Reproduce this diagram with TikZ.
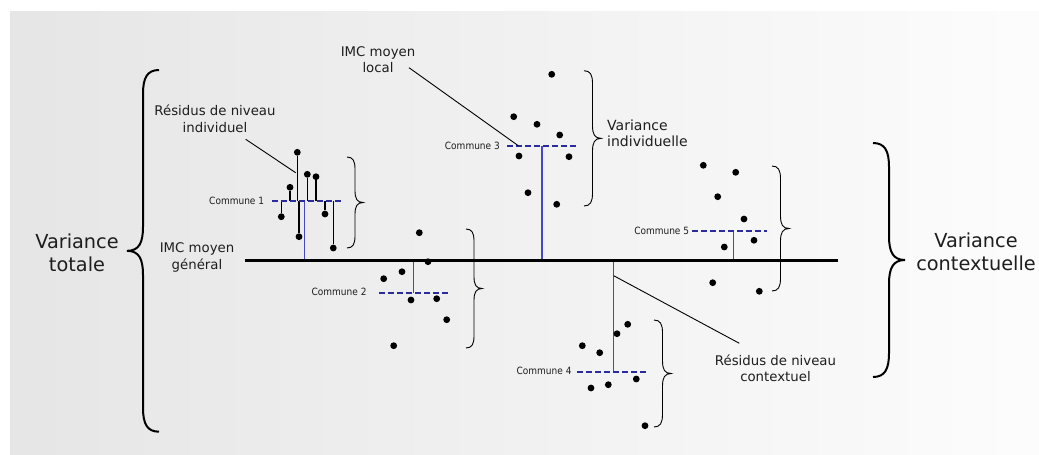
\documentclass[tikz,border=0pt]{standalone}
\usepackage{fontspec}
\setmainfont{DejaVu Sans}
\newfontfamily\condfont{DejaVu Sans}[FakeStretch=0.9]
\definecolor{meanblue}{HTML}{2B2BA0}
\definecolor{vertblue}{HTML}{4646C8}
\definecolor{txt}{HTML}{1E1E1E}
\definecolor{thin}{HTML}{4A4A4A}
\newcommand\mybrace[5]{%
 \draw[#5] (#1,#2) .. controls ({#1+0.75*(#4)},#2) and ({#1+(#4)},{#2+0.5*abs(#4)}) .. ({#1+(#4)},{#2+1.5*abs(#4)})
 -- ({#1+(#4)},{(#2+#3)/2-1.5*abs(#4)}) .. controls ({#1+(#4)},{(#2+#3)/2-0.5*abs(#4)}) and ({#1+1.25*(#4)},{(#2+#3)/2}) .. ({#1+2*(#4)},{(#2+#3)/2})
 .. controls ({#1+1.25*(#4)},{(#2+#3)/2}) and ({#1+(#4)},{(#2+#3)/2+0.5*abs(#4)}) .. ({#1+(#4)},{(#2+#3)/2+1.5*abs(#4)})
 -- ({#1+(#4)},{#3-1.5*abs(#4)}) .. controls ({#1+(#4)},{#3-0.5*abs(#4)}) and ({#1+0.75*(#4)},#3) .. (#1,#3);}
\tikzset{
 dot/.style={circle,fill=black,inner sep=0pt,minimum size=6.8pt},
 meanline/.style={meanblue,line width=2pt,dash pattern=on 6pt off 3pt},
 vline/.style={vertblue,line width=1.3pt},
 stem/.style={black,line width=1.2pt},
 leader/.style={thin,line width=0.9pt},
 bigbrace/.style={black,line width=2pt},
 smallbrace/.style={thin,line width=0.9pt},
 bigtxt/.style={txt,inner sep=0pt,align=center,font=\fontsize{19.3}{23}\selectfont},
 midtxt/.style={txt,inner sep=0pt,align=center,font=\fontsize{13.3}{16.5}\selectfont},
 comtxt/.style={txt,inner sep=0pt,anchor=east,font=\condfont\fontsize{10}{12}\selectfont},
}
\begin{document}
\begin{tikzpicture}[x=1pt,y=-1pt]
\useasboundingbox (0,0) rectangle (1039,455);
\shade[left color=black!10,right color=black!1] (10,11) rectangle (1039,455);

% general mean
\coordinate (g0) at (245,260.5);
\coordinate (g1) at (838,260.5);

% ---- Commune 1
\coordinate (m1a) at (271.7,201); \coordinate (m1b) at (341.7,201);
\coordinate (m1) at (304.3,201);
\draw[vline] (m1) -- (m1 |- g0);
\foreach \n/\x/\y in {a/297.3/152.3,b/290/187.3,c/307.3/174.3,d/316/176.7,e/281.3/216.7,f/299/236.7,g/325/214,h/333.3/248}{
  \node[dot] (c1\n) at (\x,\y) {};
  \draw[stem] (c1\n) -- (c1\n |- m1);
}
\draw[meanline] (m1a) -- (m1b);
\node[comtxt] (l1) at (264.3,200.5) {Commune 1};
\mybrace{347}{157}{248}{8}{smallbrace}

% ---- Commune 2
\coordinate (m2a) at (379,292.7); \coordinate (m2b) at (450,292.7);
\coordinate (m2) at (413.3,292.7);
\draw[vline] (m2) -- (m2 |- g0);
\draw[meanline] (m2a) -- (m2b);
\foreach \n/\x/\y in {a/419.3/232.7,b/428/261.7,c/402/271.7,d/383.7/278.7,e/411/300,f/436.7/298.7,g/446.7/319.7,h/393.7/345.7}{
  \node[dot] (c2\n) at (\x,\y) {};
}
\node[comtxt] (l2) at (366.7,292.2) {Commune 2};
\mybrace{466}{229}{348}{8}{smallbrace}

% ---- Commune 3
\coordinate (m3a) at (507.3,146); \coordinate (m3b) at (577.7,146);
\coordinate (m3) at (542,146);
\draw[vline] (m3) -- (m3 |- g0);
\draw[meanline] (m3a) -- (m3b);
\foreach \n/\x/\y in {a/551.7/74.3,b/513.7/116.7,c/537/124.3,d/559.7/135,e/519/156,f/569/156.7,g/528/192.7,h/556.7/204.3}{
  \node[dot] (c3\n) at (\x,\y) {};
}
\node[comtxt] (l3) at (500,145.5) {Commune 3};
\mybrace{584}{70.7}{206}{8.5}{smallbrace}

% ---- Commune 4
\coordinate (m4a) at (577.3,371.7); \coordinate (m4b) at (647.7,371.7);
\coordinate (m4) at (613.7,371.7);
\draw[vline] (m4) -- (m4 |- g0);
\draw[meanline] (m4a) -- (m4b);
\foreach \n/\x/\y in {a/627.7/324.3,b/617/333.7,c/582.3/345.7,d/599.7/352.7,e/636.3/379,f/608.3/384.7,g/591/388,h/645/425.7}{
  \node[dot] (c4\n) at (\x,\y) {};
}
\node[comtxt] (l4) at (571.7,371.2) {Commune 4};
\mybrace{654}{320}{427}{8.5}{smallbrace}

% ---- Commune 5
\coordinate (m5a) at (691.7,231); \coordinate (m5b) at (766.7,231);
\coordinate (m5) at (733.3,231);
\draw[vline] (m5) -- (m5 |- g0);
\draw[meanline] (m5a) -- (m5b);
\foreach \n/\x/\y in {a/703.3/165.3,b/735.7/172.3,c/717.7/196.7,d/744/219,e/754/240.3,f/724.3/247,g/712.7/282.7,h/759.3/291.3}{
  \node[dot] (c5\n) at (\x,\y) {};
}
\node[comtxt] (l5) at (689.3,230.5) {Commune 5};
\mybrace{772}{166}{291}{8.5}{smallbrace}

% general mean line on top of the verticals
\draw[black,line width=2.2pt] (g0) -- (g1);

% ---- big braces and labels
\mybrace{159}{70}{431.7}{-16}{bigbrace}
\mybrace{873}{143}{377}{16}{bigbrace}
\node[bigtxt] (vt) at (77,252.5) {Variance\\totale};
\node[bigtxt] (vc) at (976,251.5) {Variance\\contextuelle};

% ---- annotations
\node[midtxt] (ri) at (215,119) {Résidus de niveau\\individuel};
\coordinate (rifrom) at (245.7,139.3);
\coordinate (rito) at (295.7,172.7);
\draw[leader] (rifrom) -- (rito);

\node[midtxt] (il) at (378,59.5) {IMC moyen\\local};
\coordinate (ilfrom) at (409,67.7);
\coordinate (ilto) at (518.3,145.7);
\draw[leader] (ilfrom) -- (ilto);

\node[midtxt,anchor=west,align=left,font=\fontsize{14}{16.5}\selectfont] (vi) at (607,133.5) {Variance\\individuelle};

\node[midtxt] (ig) at (197,257.5) {IMC moyen\\général};

\node[midtxt] (rc) at (775.5,368.5) {Résidus de niveau\\contextuel};
\coordinate (rcfrom) at (613.7,275.7);
\coordinate (rcto) at (739.3,343.3);
\draw[leader] (rcfrom) -- (rcto);
\end{tikzpicture}
\end{document}
